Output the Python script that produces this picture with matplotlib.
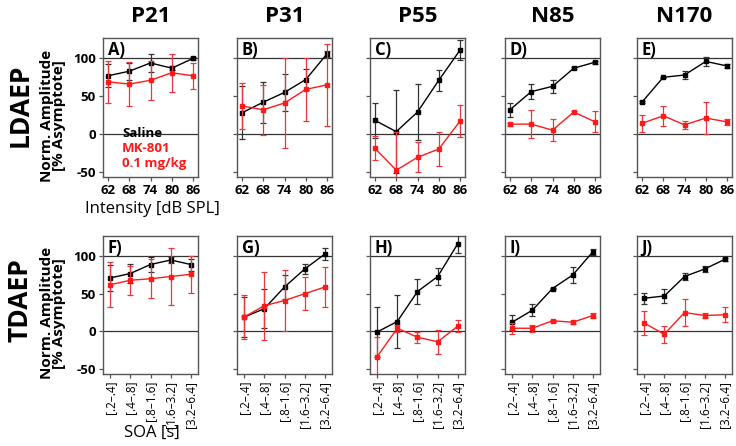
import matplotlib
matplotlib.use("Agg")
import matplotlib.pyplot as plt
import numpy as np

plt.rcParams['font.family'] = ['Open Sans', 'DejaVu Sans']

components = ["P21", "P31", "P55", "N85", "N170"]
row_names = ["LDAEP", "TDAEP"]
panel_letters = [["A)", "B)", "C)", "D)", "E)"], ["F)", "G)", "H)", "I)", "J)"]]

intensity = [62, 68, 74, 80, 86]
soa_labels = ["[.2–.4]", "[.4–.8]", "[.8–1.6]", "[1.6–3.2]", "[3.2–6.4]"]

# LDAEP (intensity) data: saline / MK-801 means and errors
ld_saline = [
    [77, 83, 94, 87, 100],
    [28, 42, 55, 72, 106],
    [18, 3, 29, 71, 111],
    [32, 56, 63, 87, 95],
    [42, 75, 78, 96, 90],
]
ld_saline_err = [
    [15, 11, 12, 3, 2],
    [35, 27, 24, 14, 4],
    [23, 55, 37, 14, 13],
    [9, 10, 9, 1, 2],
    [1, 1, 5, 6, 3],
]
ld_mk = [
    [69, 66, 71, 81, 77],
    [37, 32, 41, 59, 65],
    [-19, -48, -31, -20, 17],
    [13, 13, 5, 29, 16],
    [14, 24, 12, 21, 16],
]
ld_mk_err = [
    [28, 29, 26, 25, 17],
    [30, 33, 60, 42, 54],
    [16, 50, 20, 22, 21],
    [2, 19, 15, 1, 14],
    [11, 13, 5, 21, 4],
]

# TDAEP (SOA) data
td_saline = [
    [71, 77, 89, 95, 89],
    [19, 30, 59, 83, 103],
    [-1, 13, 53, 73, 117],
    [12, 28, 57, 75, 106],
    [44, 47, 73, 83, 96],
]
td_saline_err = [
    [17, 13, 10, 4, 8],
    [27, 26, 16, 7, 8],
    [33, 35, 17, 11, 13],
    [10, 8, 1, 11, 4],
    [7, 9, 5, 4, 2],
]
td_mk = [
    [62, 68, 70, 73, 76],
    [19, 34, 41, 50, 59],
    [-34, 4, -8, -14, 7],
    [4, 4, 14, 12, 21],
    [11, -4, 25, 21, 22],
]
td_mk_err = [
    [30, 19, 26, 38, 25],
    [29, 45, 41, 22, 27],
    [27, 5, 7, 16, 8],
    [7, 5, 1, 2, 3],
    [16, 11, 18, 3, 10],
]

W, H = 736, 446
fig = plt.figure(figsize=(W / 100, H / 100), dpi=100)

lefts = [103, 237, 370, 505, 637]
pw = 95
rows_px = [(38, 177), (236, 374)]

black = "#000000"
red = "#ff1a1a"
spine_col = "#555555"

datasets = [(ld_saline, ld_saline_err, ld_mk, ld_mk_err),
            (td_saline, td_saline_err, td_mk, td_mk_err)]

for r in range(2):
    top, bot = rows_px[r]
    sal, sal_e, mk, mk_e = datasets[r]
    for c in range(5):
        ax = fig.add_axes([lefts[c] / W, 1 - bot / H, pw / W, (bot - top) / H])
        if r == 0:
            x = np.array(intensity, dtype=float)
            ax.set_xlim(60.6, 87.4)
        else:
            x = np.arange(len(soa_labels), dtype=float)
            ax.set_xlim(-0.35, 4.35)
        ax.set_ylim(-57, 127)
        ax.axhline(0, color="#333333", lw=0.9, zorder=1)
        ax.axhline(100, color="#333333", lw=0.9, zorder=1)
        ax.errorbar(x, sal[c], yerr=sal_e[c], color=black, ecolor="#333333",
                    lw=1.0, elinewidth=0.9, capsize=2.5, capthick=0.9,
                    marker="s", ms=2.3, zorder=3)
        ax.errorbar(x, mk[c], yerr=mk_e[c], color=red, ecolor="#e8383d",
                    lw=1.0, elinewidth=0.9, capsize=2.5, capthick=0.9,
                    marker="s", ms=2.3, zorder=4)
        ax.set_yticks([-50, 0, 50, 100])
        for s in ax.spines.values():
            s.set_color(spine_col)
            s.set_linewidth(1.0)
        ax.tick_params(colors=spine_col, length=3, width=0.9, pad=2)
        if r == 0:
            ax.set_xticks(intensity)
            ax.set_xticklabels([str(v) for v in intensity], fontsize=9.5,
                               fontweight="bold", color="black")
        else:
            ax.set_xticks(x)
            ax.set_xticklabels(soa_labels, rotation=90, fontsize=8.5,
                               color="black")
        if c == 0:
            ax.set_yticklabels(["-50", "0", "50", "100"], fontsize=9.5,
                               fontweight="bold", color="black")
            ax.set_ylabel("Norm. Amplitude\n[% Asymptote]", fontsize=11,
                          fontweight="bold", linespacing=0.8)
            ax.yaxis.set_label_coords(-0.39, 0.44)
        else:
            ax.set_yticklabels([])
        ax.text(0.05, 0.98, panel_letters[r][c], transform=ax.transAxes,
                ha="left", va="top", fontsize=12, fontweight="bold")
        if r == 0 and c == 0:
            ax.text(0.2, 0.31, "Saline", transform=ax.transAxes, fontsize=9.5,
                    fontweight="bold", color=black, va="center")
            ax.text(0.2, 0.205, "MK-801", transform=ax.transAxes, fontsize=9.5,
                    fontweight="bold", color=red, va="center")
            ax.text(0.2, 0.10, "0.1 mg/kg", transform=ax.transAxes, fontsize=9.5,
                    fontweight="bold", color=red, va="center")

for c, name in enumerate(components):
    fig.text((lefts[c] + pw / 2) / W, 1 - 17 / H, name, ha="center", va="center",
             fontsize=16, fontweight="bold")

fig.text(20 / W, 1 - 105 / H, row_names[0], rotation=90, ha="center",
         va="center", fontsize=19, fontweight="bold")
fig.text(20 / W, 1 - 300 / H, row_names[1], rotation=90, ha="center",
         va="center", fontsize=19, fontweight="bold")

fig.text(152 / W, 1 - 209 / H, "Intensity [dB SPL]", ha="center", va="center",
         fontsize=12)
fig.text(152 / W, 1 - 433 / H, "SOA [s]", ha="center", va="center",
         fontsize=12)

fig.savefig("out.png", dpi=100)
